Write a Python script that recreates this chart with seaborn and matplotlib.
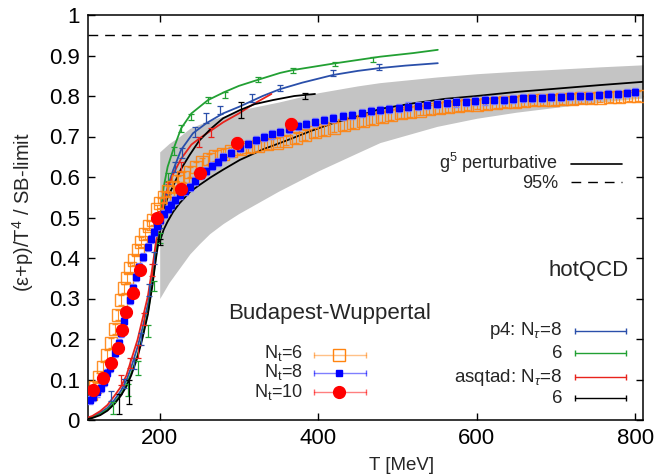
import numpy as np
import matplotlib
matplotlib.use("Agg")
import matplotlib.pyplot as plt
import seaborn as sns

# Budapest-Wuppertal, N_t = 6 (open orange squares)
bw6_T = [113, 118, 123, 128, 133, 138, 143, 147, 151, 155, 159, 163, 168, 172, 176, 181, 186, 191,
         196, 201, 206, 211, 217, 223, 230, 238, 246, 254, 262, 270, 280, 290, 301, 312, 324, 336,
         348, 360, 372, 384, 396, 408, 420, 432, 444, 456, 468, 480, 492, 504, 516, 528, 540, 552,
         564, 576, 588, 600, 612, 624, 636, 648, 660, 672, 684, 696, 708, 720, 732, 744, 756, 768,
         780, 792, 804]
bw6_v = [0.065, 0.082, 0.105, 0.13, 0.16, 0.19, 0.225, 0.26, 0.296, 0.325, 0.35, 0.375, 0.395, 0.42,
         0.44, 0.46, 0.48, 0.494, 0.52, 0.535, 0.55, 0.565, 0.576, 0.59, 0.60, 0.613, 0.625, 0.636,
         0.645, 0.652, 0.658, 0.663, 0.668, 0.673, 0.677, 0.681, 0.685, 0.69, 0.696, 0.703, 0.71,
         0.716, 0.722, 0.728, 0.734, 0.739, 0.744, 0.749, 0.753, 0.757, 0.761, 0.764, 0.767, 0.77,
         0.772, 0.775, 0.777, 0.779, 0.781, 0.783, 0.785, 0.786, 0.788, 0.789, 0.79, 0.791, 0.792,
         0.793, 0.794, 0.795, 0.796, 0.797, 0.798, 0.799, 0.80]

# Budapest-Wuppertal, N_t = 8 (filled blue squares)
bw8_T = [112, 116, 121, 126, 130, 134, 137, 140, 144, 148, 151, 155, 158, 162, 166, 170, 174, 179,
         185, 189, 193, 197, 200, 205, 210, 214, 219, 226, 232, 238, 245, 252, 259, 266, 273, 280,
         290, 301, 311, 322, 332, 342, 352, 363, 374, 385, 396, 408, 419, 431, 443, 455, 467, 478,
         490, 502, 514, 526, 538, 550, 562, 574, 586, 598, 610, 622, 634, 646, 658, 670, 682, 694,
         706, 718, 730, 742, 754, 766, 778, 790, 800]
bw8_v = [0.05, 0.058, 0.068, 0.079, 0.095, 0.116, 0.128, 0.14, 0.165, 0.19, 0.215, 0.245, 0.27, 0.296,
         0.325, 0.354, 0.378, 0.403, 0.428, 0.447, 0.465, 0.48, 0.494, 0.508, 0.521, 0.531, 0.543,
         0.556, 0.566, 0.576, 0.59, 0.604, 0.615, 0.627, 0.638, 0.65, 0.66, 0.671, 0.681, 0.691,
         0.698, 0.705, 0.712, 0.719, 0.725, 0.73, 0.736, 0.741, 0.745, 0.75, 0.754, 0.758, 0.762,
         0.765, 0.768, 0.771, 0.774, 0.776, 0.778, 0.78, 0.782, 0.784, 0.786, 0.788, 0.789, 0.79,
         0.791, 0.793, 0.794, 0.795, 0.796, 0.797, 0.798, 0.799, 0.80, 0.801, 0.802, 0.804, 0.806,
         0.808, 0.81]

# Budapest-Wuppertal, N_t = 10 (red dots)
bw10_T = [116, 128, 138, 147, 153, 158, 166, 175, 197, 227, 251, 298, 366]
bw10_v = [0.074, 0.104, 0.14, 0.178, 0.222, 0.267, 0.314, 0.37, 0.498, 0.57, 0.61, 0.685, 0.73]
bw10_e = [0.012, 0.012, 0.012, 0.012, 0.012, 0.012, 0.012, 0.012, 0.012, 0.012, 0.012, 0.015, 0.015]

# perturbative band (95%) and g^5 curve
band_T = [200, 212, 225, 238, 250, 263, 280, 300, 350, 400, 450, 478, 550, 600, 650, 700, 756, 810]
band_hi = [0.662, 0.683, 0.70, 0.72, 0.73, 0.74, 0.75, 0.765, 0.785, 0.808, 0.825, 0.833, 0.847,
           0.855, 0.861, 0.866, 0.872, 0.877]
band_lo = [0.30, 0.34, 0.375, 0.41, 0.435, 0.46, 0.485, 0.51, 0.565, 0.615, 0.66, 0.685, 0.725,
           0.745, 0.76, 0.772, 0.785, 0.795]
g5_T = [200, 205, 210, 217, 225, 238, 250, 265, 280, 301, 330, 360, 390, 419, 450, 478, 520, 560,
        600, 650, 700, 756, 810]
g5_v = [0.44, 0.47, 0.49, 0.514, 0.535, 0.563, 0.58, 0.60, 0.618, 0.642, 0.668, 0.69, 0.713, 0.733,
        0.75, 0.768, 0.782, 0.793, 0.80, 0.81, 0.818, 0.827, 0.835]

# hotQCD curves
p4_8_T = [105, 115, 125, 134, 143, 151, 158, 164, 172, 178, 185, 191, 195, 200, 205, 210, 217, 227,
          242, 259, 280, 301, 330, 352, 380, 419, 450, 478, 510, 551]
p4_8_v = [0.002, 0.008, 0.018, 0.03, 0.05, 0.072, 0.098, 0.13, 0.18, 0.225, 0.285, 0.355, 0.41, 0.475,
          0.53, 0.575, 0.617, 0.667, 0.708, 0.733, 0.757, 0.774, 0.80, 0.817, 0.833, 0.852, 0.862,
          0.869, 0.875, 0.881]
p4_6_T = [105, 115, 125, 134, 143, 151, 158, 164, 172, 178, 185, 191, 195, 200, 205, 210, 217, 227,
          240, 261, 282, 300, 324, 352, 368, 419, 478, 520, 551]
p4_6_v = [0.002, 0.006, 0.014, 0.026, 0.043, 0.063, 0.087, 0.115, 0.16, 0.205, 0.265, 0.34, 0.40, 0.49,
          0.575, 0.625, 0.667, 0.72, 0.757, 0.79, 0.81, 0.825, 0.84, 0.857, 0.864, 0.88, 0.897, 0.906,
          0.914]
asq_8_T = [105, 115, 125, 134, 143, 151, 158, 164, 172, 178, 185, 191, 195, 200, 205, 210, 217, 227,
           240, 250, 265, 280, 300, 320, 341]
asq_8_v = [0.003, 0.01, 0.022, 0.037, 0.06, 0.082, 0.11, 0.148, 0.198, 0.247, 0.305, 0.379, 0.436,
           0.494, 0.54, 0.57, 0.607, 0.645, 0.68, 0.695, 0.715, 0.735, 0.757, 0.782, 0.805]
asq_6_T = [105, 115, 125, 134, 143, 151, 158, 164, 172, 178, 185, 191, 195, 200, 205, 210, 217, 227,
           238, 250, 265, 280, 301, 320, 343, 370, 396]
asq_6_v = [0.001, 0.005, 0.012, 0.023, 0.04, 0.06, 0.083, 0.11, 0.155, 0.2, 0.26, 0.335, 0.395, 0.46,
           0.515, 0.55, 0.578, 0.62, 0.655, 0.69, 0.72, 0.745, 0.765, 0.78, 0.79, 0.80, 0.805]

# hotQCD data points with errors
p4_8_pT = [138, 155, 168, 177, 187, 193, 200, 210, 219, 228, 244, 259, 276, 316, 352, 419, 477]
p4_8_pv = [0.06, 0.09, 0.14, 0.2, 0.32, 0.40, 0.49, 0.57, 0.625, 0.66, 0.712, 0.745, 0.765, 0.795,
           0.82, 0.857, 0.872]
p4_8_pe = [0.012, 0.012, 0.014, 0.015, 0.015, 0.015, 0.015, 0.012, 0.012, 0.012, 0.012, 0.012, 0.01,
           0.01, 0.008, 0.008, 0.008]
p4_6_pT = [141, 160, 173, 185, 193, 200, 210, 218, 227, 240, 261, 282, 324, 368, 421, 469]
p4_6_pv = [0.03, 0.074, 0.128, 0.22, 0.33, 0.45, 0.60, 0.665, 0.72, 0.748, 0.79, 0.802, 0.841, 0.862,
           0.879, 0.891]
p4_6_pe = [0.015, 0.015, 0.018, 0.015, 0.012, 0.012, 0.01, 0.01, 0.008, 0.008, 0.008, 0.007, 0.007,
           0.006, 0.006, 0.006]
asq_8_pT = [151, 163, 172, 180, 190, 200, 210, 227, 250, 265]
asq_8_pv = [0.099, 0.14, 0.169, 0.25, 0.37, 0.50, 0.575, 0.625, 0.687, 0.71]
asq_8_pe = [0.012, 0.012, 0.015, 0.015, 0.015, 0.015, 0.012, 0.012, 0.012, 0.012]
asq_6_pT = [149, 161, 200, 303, 383]
asq_6_pv = [0.04, 0.07, 0.44, 0.765, 0.80]
asq_6_pe = [0.025, 0.03, 0.008, 0.02, 0.008]

c_orange = "#ff8410"
c_blue = "#0000ff"
c_red = "#ff0000"
c_hq_blue = "#2a4faa"
c_hq_green = "#22a033"
c_hq_red = "#e8231c"

sns.set_theme(style="ticks")
plt.rcParams["font.family"] = ["Liberation Sans", "DejaVu Sans"]
plt.rcParams["mathtext.fontset"] = "custom"
plt.rcParams["mathtext.rm"] = "Liberation Sans"
plt.rcParams["mathtext.it"] = "Liberation Sans:italic"

fig = plt.figure(figsize=(6.6, 4.75), dpi=100)
ax = fig.add_axes([88 / 660, 55 / 475, 555 / 660, 405 / 475])

# perturbative band, g5 line, SB dashed line
ax.fill_between(band_T, band_lo, band_hi, color="#c4c4c4", lw=0, zorder=1)
sns.lineplot(x=g5_T, y=g5_v, ax=ax, color="black", lw=1.3, estimator=None, zorder=2)
ax.axhline(0.95, color="black", lw=1.0, ls=(0, (7, 5)), zorder=2)

# hotQCD lines and points
for T, v, c in [(p4_8_T, p4_8_v, c_hq_blue), (p4_6_T, p4_6_v, c_hq_green),
                (asq_8_T, asq_8_v, c_hq_red), (asq_6_T, asq_6_v, "black")]:
    sns.lineplot(x=T, y=v, ax=ax, color=c, lw=1.3, estimator=None, sort=False, zorder=3)
for T, v, e, c in [(p4_8_pT, p4_8_pv, p4_8_pe, c_hq_blue), (p4_6_pT, p4_6_pv, p4_6_pe, c_hq_green),
                   (asq_8_pT, asq_8_pv, asq_8_pe, c_hq_red), (asq_6_pT, asq_6_pv, asq_6_pe, "black")]:
    ax.errorbar(T, v, yerr=e, fmt="none", ecolor=c, elinewidth=0.9, capsize=2, capthick=0.9, zorder=3)

# Budapest-Wuppertal points
ax.errorbar(bw6_T, bw6_v, yerr=0.012, fmt="s", ms=8.5, mfc="none", mec=c_orange, mew=1.0,
            ecolor=c_orange, elinewidth=0.8, capsize=2, alpha=0.9, zorder=4)
ax.errorbar(bw8_T, bw8_v, yerr=0.01, fmt="s", ms=5, mfc=c_blue, mec=c_blue, ecolor="#7f7fff",
            elinewidth=0.8, capsize=2, zorder=5)
ax.errorbar(bw10_T, bw10_v, yerr=bw10_e, fmt="o", ms=8.5, mfc=c_red, mec=c_red, ecolor="#ff7f7f",
            elinewidth=0.9, capsize=2, zorder=6)

ax.set_xlim(109.5, 810)
ax.set_ylim(0, 1)
ax.set_xticks([200, 400, 600, 800])
ax.set_yticks(np.arange(0, 1.01, 0.1))
ax.set_yticklabels(["0", "0.1", "0.2", "0.3", "0.4", "0.5", "0.6", "0.7", "0.8", "0.9", "1"])
ax.tick_params(direction="in", top=True, right=True, length=5, width=1, labelsize=16, colors="black",
               pad=6)
for sp in ax.spines.values():
    sp.set_visible(True)
    sp.set_color("black")
    sp.set_linewidth(1.1)
ax.set_xlabel("")
ax.set_ylabel("")

fig.text(23 / 660, 1 - 212 / 475, r"(ε+p)/T$^4$ / SB-limit", rotation=90, ha="center", va="center",
         fontsize=14.5)
fig.text(402 / 660, 1 - 466 / 475, "T [MeV]", ha="center", va="center", fontsize=13.5)

tr = ax.transAxes

# g5 legend
ax.text(0.847, 0.634, r"g$^5$ perturbative", transform=tr, ha="right", va="center", fontsize=13)
ax.text(0.847, 0.584, "95%", transform=tr, ha="right", va="center", fontsize=13)
ax.plot([0.870, 0.962], [0.632, 0.632], color="black", lw=1.2, transform=tr)
ax.plot([0.870, 0.962], [0.588, 0.588], color="black", lw=1.0, ls=(0, (7, 5)), transform=tr)

# Budapest-Wuppertal legend
ax.text(0.252, 0.264, "Budapest-Wuppertal", transform=tr, ha="left", va="center", fontsize=16)
bw_rows = [(r"N$_\mathrm{t}$=6", c_orange, "s", 8, "none", 0.160, 0.166),
           (r"N$_\mathrm{t}$=8", c_blue, "s", 4, c_blue, 0.116, 0.118),
           (r"N$_\mathrm{t}$=10", c_red, "o", 8.5, c_red, 0.069, 0.068)]
for lab, c, m, ms, fc, yy, ty in bw_rows:
    ax.text(0.388, ty, lab, transform=tr, ha="right", va="center", fontsize=13)
    ax.plot([0.407, 0.501], [yy, yy], color=c, lw=1.0, alpha=0.5, transform=tr)
    ax.plot([0.407, 0.501], [yy, yy], ls="none", marker="|", ms=5, mew=1.0, color=c, alpha=0.6,
            transform=tr)
    ax.plot([0.452], [yy], ls="none", marker=m, ms=ms, mfc=fc, mec=c, mew=1.0, transform=tr, zorder=7)

# hotQCD legend
ax.text(0.829, 0.368, "hotQCD", transform=tr, ha="left", va="center", fontsize=16)
hq_rows = [(r"p4: N$_\tau$=8", c_hq_blue, 0.22), ("6", c_hq_green, 0.165),
           (r"asqtad: N$_\tau$=8", c_hq_red, 0.106), ("6", "black", 0.054)]
for lab, c, yy in hq_rows:
    ax.text(0.855, yy, lab, transform=tr, ha="right", va="center", fontsize=13.5)
    ax.plot([0.877, 0.969], [yy, yy], color=c, lw=1.0, transform=tr)
    ax.plot([0.877, 0.969], [yy, yy], ls="none", marker="|", ms=5, mew=1.0, color=c, transform=tr)

fig.savefig("out.png", dpi=100)
